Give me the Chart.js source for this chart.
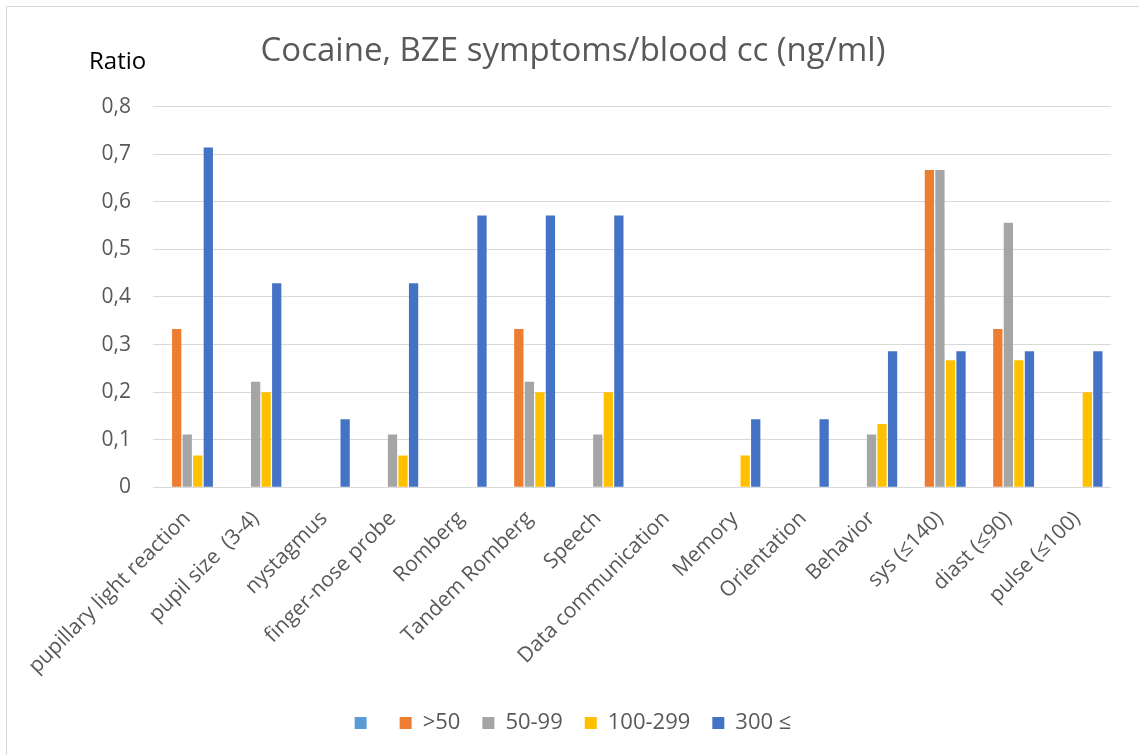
<!DOCTYPE html>
<html lang="en">
<head>
  <meta charset="UTF-8" />
  <title>Cocaine, BZE symptoms/blood cc</title>
  <script src="https://cdn.jsdelivr.net/npm/chart.js"></script>
  <style>
    body {
      margin: 0;
      background: #fff;
    }

    .chart-box {
      position: absolute;
      left: 6px;
      top: 6px;
      width: 1133px;
      height: 749px;
      border-left: 1px solid #d9d9d9;
      border-top: 1px solid #d9d9d9;
      box-sizing: border-box;
    }
  </style>
</head>
<body>
  <div class="chart-box"><canvas id="chart"></canvas></div>

  <script>
    const categories = [
      'pupillary light reaction', 'pupil size  (3-4)', 'nystagmus', 'finger-nose probe',
      'Romberg', 'Tandem Romberg', 'Speech', 'Data communication', 'Memory',
      'Orientation', 'Behavior', 'sys (≤140)', 'diast (≤90)', 'pulse (≤100)'
    ];
    const seriesNames = ['', '>50', '50-99', '100-299', '300 ≤'];
    const blankValues = [0, 0, 0, 0, 0, 0, 0, 0, 0, 0, 0, 0, 0, 0];
    const over50 = [0.333, 0, 0, 0, 0, 0.333, 0, 0, 0, 0, 0, 0.667, 0.333, 0];
    const from50to99 = [0.111, 0.222, 0, 0.111, 0, 0.222, 0.111, 0, 0, 0, 0.111, 0.667, 0.556, 0];
    const from100to299 = [0.067, 0.2, 0, 0.067, 0, 0.2, 0.2, 0, 0.067, 0, 0.133, 0.267, 0.267, 0.2];
    const from300 = [0.714, 0.429, 0.143, 0.429, 0.571, 0.571, 0.571, 0, 0.143, 0.143, 0.286, 0.286, 0.286, 0.286];
    const colors = ['#5b9bd5', '#ed7d31', '#a5a5a5', '#ffc000', '#4472c4'];

    const allValues = [blankValues, over50, from50to99, from100to299, from300];
    const fontFamily = "'Open Sans', 'DejaVu Sans', sans-serif";

    // "Ratio" label sits above the value axis, left of the title
    const ratioLabel = {
      id: 'ratioLabel',
      afterDraw(chart) {
        const ctx = chart.ctx;
        ctx.save();
        ctx.font = '24px ' + fontFamily;
        ctx.fillStyle = '#000';
        ctx.textBaseline = 'middle';
        ctx.fillText('Ratio', 82, 55);
        ctx.restore();
      }
    };

    new Chart(document.getElementById('chart'), {
      type: 'bar',
      data: {
        labels: categories,
        datasets: seriesNames.map((name, i) => ({
          label: name,
          data: allValues[i],
          backgroundColor: colors[i],
          borderWidth: 0,
          categoryPercentage: 0.77,
          barPercentage: 0.88
        }))
      },
      options: {
        responsive: true,
        maintainAspectRatio: false,
        animation: false,
        layout: {
          padding: { left: 28, right: 28, top: 25, bottom: 11 }
        },
        plugins: {
          title: {
            display: true,
            text: 'Cocaine, BZE symptoms/blood cc (ng/ml)',
            color: '#595959',
            font: { family: fontFamily, size: 33, weight: 'normal' },
            padding: { top: 0, bottom: 35 }
          },
          legend: {
            position: 'bottom',
            labels: {
              color: '#595959',
              font: { family: fontFamily, size: 22 },
              boxWidth: 12,
              boxHeight: 12,
              padding: 22
            }
          },
          tooltip: { enabled: false }
        },
        scales: {
          x: {
            grid: { display: false },
            border: { display: false },
            ticks: {
              color: '#595959',
              font: { family: fontFamily, size: 21 },
              minRotation: 45,
              maxRotation: 45,
              autoSkip: false,
              padding: 11
            }
          },
          y: {
            min: 0,
            max: 0.8,
            afterFit: scale => { scale.width = 118; },
            grid: { color: '#d9d9d9', lineWidth: 1, drawTicks: false },
            border: { display: false },
            ticks: {
              stepSize: 0.1,
              color: '#595959',
              font: { family: fontFamily, size: 21 },
              padding: 22,
              callback: v => String(Math.round(v * 10) / 10).replace('.', ',')
            }
          }
        }
      },
      plugins: [ratioLabel]
    });
  </script>
</body>
</html>
